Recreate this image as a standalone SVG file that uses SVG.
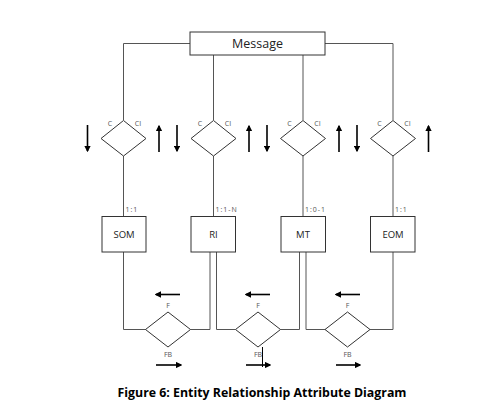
<svg xmlns="http://www.w3.org/2000/svg" width="502" height="416" viewBox="0 0 502 416">
<defs>
<style>
.ln{fill:none;stroke:#555;stroke-width:1}
.sh{fill:#fff;stroke:#333;stroke-width:1}
.ar{fill:none;stroke:#000;stroke-width:1.6}
.t{font-family:"Open Sans","Noto Sans",sans-serif;fill:#222}
.s{font-family:"Open Sans","Noto Sans",sans-serif;fill:#555;font-size:7px}
.cap{font-family:"Open Sans","Liberation Sans",sans-serif;font-weight:bold;font-size:13px;fill:#000}
</style>
<marker id="ah" viewBox="0 0 10 10" refX="8" refY="5" markerWidth="4" markerHeight="4" orient="auto" markerUnits="strokeWidth">
<path d="M0,0 L10,5 L0,10 z" fill="#000"/>
</marker>
</defs>
<rect width="502" height="416" fill="#fff"/>
<g id="connectors">
<polyline class="ln" points="190,43.5 123.5,43.5 123.5,120"/>
<polyline class="ln" points="325,43.5 393,43.5 393,120"/>
<line class="ln" x1="213.5" y1="55" x2="213.5" y2="120"/>
<line class="ln" x1="303" y1="55" x2="303" y2="120"/>
<line class="ln" x1="123.5" y1="156" x2="123.5" y2="216"/>
<line class="ln" x1="213.5" y1="156" x2="213.5" y2="216"/>
<line class="ln" x1="303" y1="156" x2="303" y2="216"/>
<line class="ln" x1="393" y1="156" x2="393" y2="216"/>
<polyline class="ln" points="123.5,252 123.5,329.5 146,329.5"/>
<polyline class="ln" points="190.5,329.5 210,329.5 210,252"/>
<polyline class="ln" points="216.5,252 216.5,329.5 235.5,329.5"/>
<polyline class="ln" points="280.5,329.5 299.5,329.5 299.5,252"/>
<polyline class="ln" points="306,252 306,329.5 325.5,329.5"/>
<polyline class="ln" points="370,329.5 393,329.5 393,252"/>
<line x1="262.5" y1="347" x2="262.5" y2="367" stroke="#000" stroke-width="1"/>
</g>
<g id="arrows">
<line class="ar" x1="87.5" y1="125" x2="87.5" y2="151" marker-end="url(#ah)"/>
<line class="ar" x1="159" y1="152" x2="159" y2="126" marker-end="url(#ah)"/>
<line class="ar" x1="177" y1="125" x2="177" y2="151" marker-end="url(#ah)"/>
<line class="ar" x1="249" y1="152" x2="249" y2="126" marker-end="url(#ah)"/>
<line class="ar" x1="267" y1="125" x2="267" y2="151" marker-end="url(#ah)"/>
<line class="ar" x1="339" y1="152" x2="339" y2="126" marker-end="url(#ah)"/>
<line class="ar" x1="357" y1="125" x2="357" y2="151" marker-end="url(#ah)"/>
<line class="ar" x1="428.5" y1="152" x2="428.5" y2="126" marker-end="url(#ah)"/>
<line class="ar" x1="180" y1="294.5" x2="156" y2="294.5" marker-end="url(#ah)"/>
<line class="ar" x1="156" y1="365" x2="181" y2="365" marker-end="url(#ah)"/>
<line class="ar" x1="270" y1="294.5" x2="246" y2="294.5" marker-end="url(#ah)"/>
<line class="ar" x1="246" y1="365" x2="270" y2="365" marker-end="url(#ah)"/>
<line class="ar" x1="360" y1="294.5" x2="336" y2="294.5" marker-end="url(#ah)"/>
<line class="ar" x1="336" y1="365" x2="360" y2="365" marker-end="url(#ah)"/>
</g>
<g id="message">
<rect class="sh" x="190" y="32" width="135" height="23"/>
<text class="t" x="257.5" y="48" font-size="12.5" text-anchor="middle">Message</text>
</g>
<g id="rel1">
<polygon class="sh" points="123.5,120.5 146,138.5 123.5,156 101,138.5"/>
<text class="s" x="110" y="126" text-anchor="middle">C</text>
<text class="s" x="138" y="126" text-anchor="middle">CI</text>
</g>
<g id="rel2">
<polygon class="sh" points="213.5,120.5 236,138.5 213.5,156 191,138.5"/>
<text class="s" x="200" y="126" text-anchor="middle">C</text>
<text class="s" x="228" y="126" text-anchor="middle">CI</text>
</g>
<g id="rel3">
<polygon class="sh" points="303,120.5 325.5,138.5 303,156 280.5,138.5"/>
<text class="s" x="289.5" y="126" text-anchor="middle">C</text>
<text class="s" x="317.5" y="126" text-anchor="middle">CI</text>
</g>
<g id="rel4">
<polygon class="sh" points="393,120.5 415.5,138.5 393,156 370.5,138.5"/>
<text class="s" x="379.5" y="126" text-anchor="middle">C</text>
<text class="s" x="407.5" y="126" text-anchor="middle">CI</text>
</g>
<g id="card">
<text class="s" x="125.5" y="212" letter-spacing="1">1:1</text>
<text class="s" x="215.5" y="212" letter-spacing="1">1:1-N</text>
<text class="s" x="305" y="212" letter-spacing="1">1:0-1</text>
<text class="s" x="395" y="212" letter-spacing="1">1:1</text>
</g>
<g id="som">
<rect class="sh" x="102" y="216.5" width="44" height="35.5"/>
<text class="t" x="124" y="238" font-size="9.5" text-anchor="middle">SOM</text>
</g>
<g id="ri">
<rect class="sh" x="191" y="216.5" width="44.5" height="35.5"/>
<text class="t" x="213.5" y="238" font-size="9.5" text-anchor="middle">RI</text>
</g>
<g id="mt">
<rect class="sh" x="281" y="216.5" width="44.5" height="35.5"/>
<text class="t" x="303" y="238" font-size="9.5" text-anchor="middle">MT</text>
</g>
<g id="eom">
<rect class="sh" x="370.5" y="216.5" width="44.5" height="35.5"/>
<text class="t" x="393" y="238" font-size="9.5" text-anchor="middle">EOM</text>
</g>
<g id="fb1">
<polygon class="sh" points="168,312 190.5,329.5 168,347 145.5,329.5"/>
<text class="s" x="168" y="308" text-anchor="middle">F</text>
<text class="s" x="168" y="357" text-anchor="middle">FB</text>
</g>
<g id="fb2">
<polygon class="sh" points="258,312 280.5,329.5 258,347 235.5,329.5"/>
<text class="s" x="258" y="308" text-anchor="middle">F</text>
<text class="s" x="258" y="357" text-anchor="middle">FB</text>
</g>
<g id="fb3">
<polygon class="sh" points="347.5,312 370,329.5 347.5,347 325,329.5"/>
<text class="s" x="347.5" y="308" text-anchor="middle">F</text>
<text class="s" x="347.5" y="357" text-anchor="middle">FB</text>
</g>
<text class="cap" x="117.5" y="397" textLength="289" lengthAdjust="spacingAndGlyphs">Figure 6: Entity Relationship Attribute Diagram</text>
</svg>
